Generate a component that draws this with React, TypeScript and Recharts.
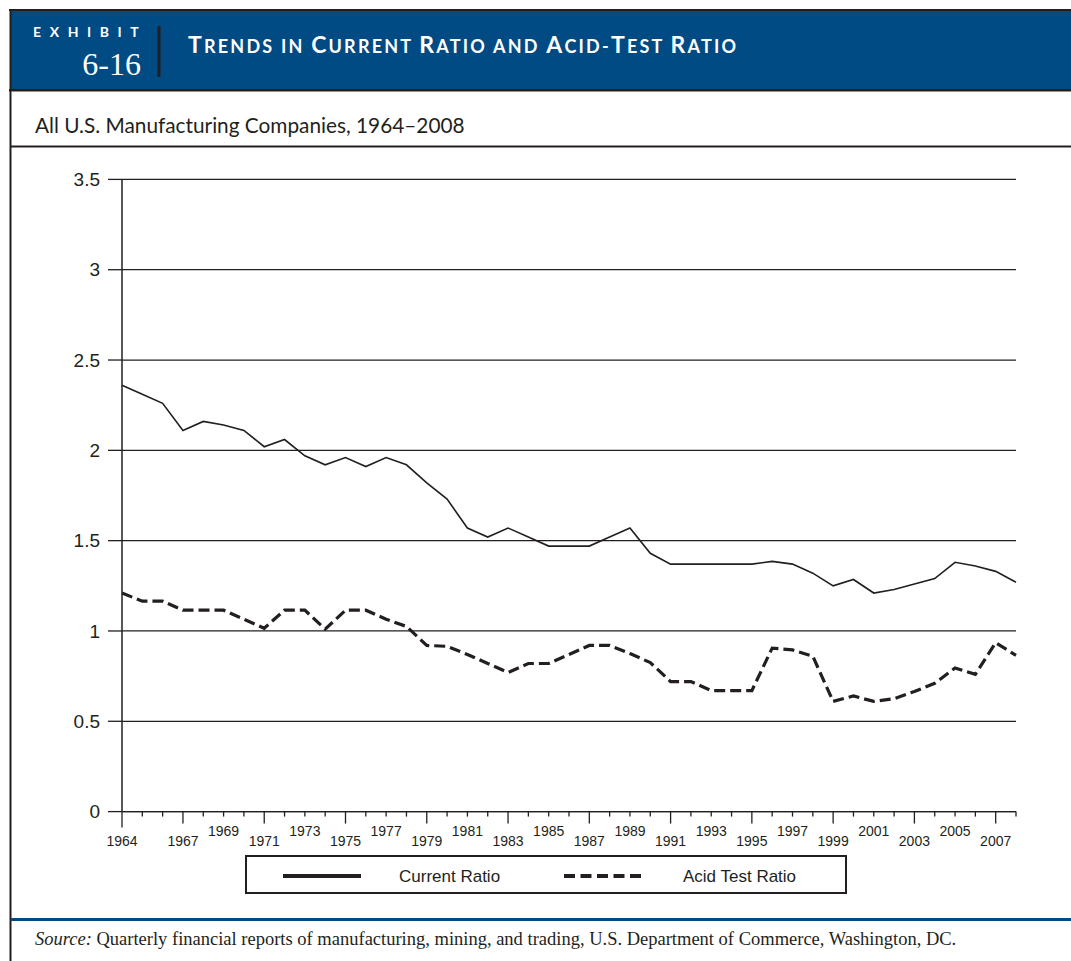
import { CartesianGrid, Line, LineChart, XAxis, YAxis } from 'recharts'

const years = [
  1964, 1965, 1966, 1967, 1968, 1969, 1970, 1971, 1972, 1973, 1974, 1975,
  1976, 1977, 1978, 1979, 1980, 1981, 1982, 1983, 1984, 1985, 1986, 1987,
  1988, 1989, 1990, 1991, 1992, 1993, 1994, 1995, 1996, 1997, 1998, 1999,
  2000, 2001, 2002, 2003, 2004, 2005, 2006, 2007, 2008,
]

const currentRatio = [
  2.36, 2.31, 2.26, 2.11, 2.16, 2.14, 2.11, 2.02, 2.06, 1.97, 1.92, 1.96,
  1.91, 1.96, 1.92, 1.82, 1.73, 1.57, 1.52, 1.57, 1.52, 1.47, 1.47, 1.47,
  1.52, 1.57, 1.43, 1.37, 1.37, 1.37, 1.37, 1.37, 1.385, 1.37, 1.32, 1.25,
  1.285, 1.21, 1.23, 1.26, 1.29, 1.38, 1.36, 1.33, 1.27,
]

const acidTestRatio = [
  1.21, 1.165, 1.165, 1.115, 1.115, 1.115, 1.065, 1.015, 1.115, 1.115, 1.01,
  1.115, 1.115, 1.065, 1.025, 0.92, 0.915, 0.87, 0.82, 0.77, 0.82, 0.82, 0.87,
  0.92, 0.92, 0.875, 0.825, 0.72, 0.72, 0.67, 0.67, 0.67, 0.905, 0.895, 0.86,
  0.61, 0.64, 0.61, 0.625, 0.665, 0.71, 0.795, 0.76, 0.935, 0.865,
]

const yTicks = [0, 0.5, 1, 1.5, 2, 2.5, 3, 3.5]

// year labels alternate between a low row and a raised row
const lowLabels = [1964, 1967, 1971, 1975, 1979, 1983, 1987, 1991, 1995, 1999, 2003, 2007]
const highLabels = [1969, 1973, 1977, 1981, 1985, 1989, 1993, 1997, 2001, 2005]

const data = years.map((year, i) => ({
  year,
  current: currentRatio[i],
  acid: acidTestRatio[i],
}))

const INK = '#231f20'
const BLUE = '#004b84'
const SANS = '"Liberation Sans", Arial, sans-serif'
const GILL = 'Lato, "Open Sans", sans-serif'
const SERIF = '"Liberation Serif", "Times New Roman", serif'

const YearTick = (props: any) => {
  const { x, y, payload } = props
  const year = payload.value
  const low = lowLabels.includes(year)
  const high = highLabels.includes(year)
  const len = year === 1964 ? 16 : low ? 12 : 5
  return (
    <g>
      <line x1={x} x2={x} y1={y} y2={y + len} stroke={INK} strokeWidth={1.3} />
      {(low || high) && (
        <text
          x={x}
          y={low ? y + 34.5 : y + 24}
          textAnchor='middle'
          fontFamily={SANS}
          fontSize={14}
          fill={INK}
        >
          {year}
        </text>
      )}
    </g>
  )
}

function Frame() {
  return (
    <svg
      width={1071}
      height={961}
      style={{ position: 'absolute', left: 0, top: 0 }}
    >
      <rect x={11} y={11} width={1060} height={78} fill={BLUE} />
      <rect x={9} y={9} width={1062} height={2} fill={INK} />
      <rect x={9} y={89} width={1062} height={2.5} fill={INK} />
      <rect x={9.5} y={9} width={2} height={952} fill={INK} />
      <rect x={10} y={145.5} width={1061} height={2} fill={INK} />
      <rect x={11} y={918} width={1060} height={3} fill={BLUE} />

      <text
        x={33}
        y={36.5}
        fontFamily={GILL}
        fontWeight={700}
        fontSize={14}
        letterSpacing={8.6}
        fill='#fff'
      >
        EXHIBIT
      </text>
      <text
        x={141}
        y={75}
        textAnchor='end'
        fontFamily={SERIF}
        fontSize={32}
        fill='#fff'
      >
        6-16
      </text>
      <rect x={157.5} y={26} width={3} height={51} fill={INK} />
      <text
        x={188}
        y={53}
        fontFamily={GILL}
        fontWeight={700}
        letterSpacing={2.2}
        fill='#fff'
      >
        <tspan fontSize={23}>T</tspan>
        <tspan fontSize={18}>RENDS IN </tspan>
        <tspan fontSize={23}>C</tspan>
        <tspan fontSize={18}>URRENT </tspan>
        <tspan fontSize={23}>R</tspan>
        <tspan fontSize={18}>ATIO AND </tspan>
        <tspan fontSize={23}>A</tspan>
        <tspan fontSize={18}>CID-</tspan>
        <tspan fontSize={23}>T</tspan>
        <tspan fontSize={18}>EST </tspan>
        <tspan fontSize={23}>R</tspan>
        <tspan fontSize={18}>ATIO</tspan>
      </text>

      <text x={35} y={133} fontFamily={GILL} fontSize={20.8} fill={INK}>
        All U.S. Manufacturing Companies, 1964–2008
      </text>

      <text x={35} y={945} fontFamily={SERIF} fontSize={18.5} fill={INK}>
        <tspan fontStyle='italic'>Source:</tspan> Quarterly financial reports
        of manufacturing, mining, and trading, U.S. Department of Commerce,
        Washington, DC.
      </text>
    </svg>
  )
}

function ChartLegend() {
  return (
    <svg
      width={602}
      height={39}
      style={{ position: 'absolute', left: 245, top: 855 }}
    >
      <rect x={1} y={1} width={600} height={37} fill='#fff' stroke={INK} strokeWidth={2} />
      <line x1={38} x2={116} y1={21} y2={21} stroke={INK} strokeWidth={4} />
      <text x={154} y={27} fontFamily={SANS} fontSize={17} fill={INK}>
        Current Ratio
      </text>
      <line
        x1={319}
        x2={397}
        y1={21}
        y2={21}
        stroke={INK}
        strokeWidth={4}
        strokeDasharray='11 5.5'
      />
      <text x={438} y={27} fontFamily={SANS} fontSize={17} fill={INK}>
        Acid Test Ratio
      </text>
    </svg>
  )
}

export default function App() {
  return (
    <div
      style={{
        position: 'absolute',
        left: 0,
        top: 0,
        width: 1071,
        height: 961,
        background: '#fff',
      }}
    >
      <Frame />
      <div style={{ position: 'absolute', left: 0, top: 160 }}>
        <LineChart
          width={1071}
          height={720}
          data={data}
          margin={{ top: 19.4, right: 55, bottom: 28.4, left: 62 }}
        >
          <CartesianGrid vertical={false} stroke={INK} strokeWidth={1.3} />
          <XAxis
            dataKey='year'
            type='number'
            domain={[1964, 2008]}
            ticks={years}
            interval={0}
            height={40}
            tickSize={0}
            tickMargin={0}
            tickLine={false}
            axisLine={{ stroke: INK, strokeWidth: 1.3 }}
            tick={<YearTick />}
          />
          <YAxis
            domain={[0, 3.5]}
            ticks={yTicks}
            width={60}
            tickSize={14}
            tickMargin={8}
            tickLine={{ stroke: INK, strokeWidth: 1.3 }}
            axisLine={{ stroke: INK, strokeWidth: 1.5 }}
            tick={{ fontFamily: SANS, fontSize: 19, fill: INK }}
          />
          <Line
            type='linear'
            dataKey='current'
            name='Current Ratio'
            stroke={INK}
            strokeWidth={1.6}
            dot={false}
            isAnimationActive={false}
          />
          <Line
            type='linear'
            dataKey='acid'
            name='Acid Test Ratio'
            stroke={INK}
            strokeWidth={3.2}
            strokeDasharray='11 5'
            dot={false}
            isAnimationActive={false}
          />
        </LineChart>
      </div>
      <ChartLegend />
    </div>
  )
}
